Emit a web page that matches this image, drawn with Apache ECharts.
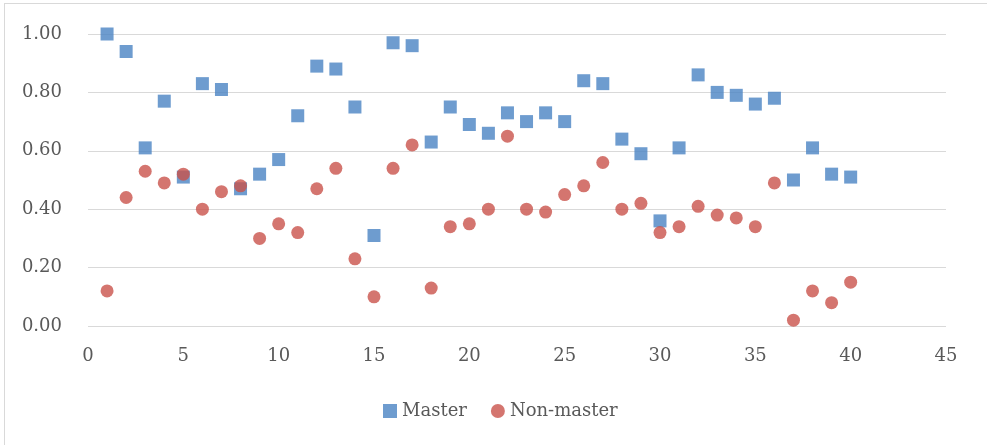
<!DOCTYPE html>
<html>
<head>
<meta charset="utf-8">
<script src="https://cdn.jsdelivr.net/npm/echarts@6/dist/echarts.min.js"></script>
<style>
html,body{margin:0;padding:0;background:#fff;}
#frame{position:absolute;left:4px;top:3px;width:990px;height:450px;border-top:1px solid #d9d9d9;border-left:1px solid #d9d9d9;box-sizing:border-box;}
#chart{position:absolute;left:0;top:0;width:987px;height:445px;}
</style>
</head>
<body>
<div id="frame"></div>
<div id="chart"></div>
<script>
const xValues = [1,2,3,4,5,6,7,8,9,10,11,12,13,14,15,16,17,18,19,20,21,22,23,24,25,26,27,28,29,30,31,32,33,34,35,36,37,38,39,40];
const masterValues = [1.00,0.94,0.61,0.77,0.51,0.83,0.81,0.47,0.52,0.57,0.72,0.89,0.88,0.75,0.31,0.97,0.96,0.63,0.75,0.69,0.66,0.73,0.70,0.73,0.70,0.84,0.83,0.64,0.59,0.36,0.61,0.86,0.80,0.79,0.76,0.78,0.50,0.61,0.52,0.51];
const nonMasterValues = [0.12,0.44,0.53,0.49,0.52,0.40,0.46,0.48,0.30,0.35,0.32,0.47,0.54,0.23,0.10,0.54,0.62,0.13,0.34,0.35,0.40,0.65,0.40,0.39,0.45,0.48,0.56,0.40,0.42,0.32,0.34,0.41,0.38,0.37,0.34,0.49,0.02,0.12,0.08,0.15];
const seriesNames = ['Master','Non-master'];

const chart = echarts.init(document.getElementById('chart'));
const labelFont = {color:'#595959', fontFamily:'DejaVu Serif', fontSize:18};
chart.setOption({
  animation:false,
  grid:{left:88,right:41,top:34,bottom:119,containLabel:false},
  legend:{
    data:[{name:seriesNames[0],icon:'rect'},{name:seriesNames[1],icon:'circle'}],
    left:378, top:397, itemWidth:14, itemHeight:14, itemGap:24,
    textStyle:labelFont
  },
  xAxis:{
    type:'value', min:0, max:45, interval:5,
    axisLine:{show:false}, axisTick:{show:false}, splitLine:{show:false},
    axisLabel:Object.assign({margin:21}, labelFont)
  },
  yAxis:{
    type:'value', min:0, max:1, interval:0.2,
    axisLine:{show:false}, axisTick:{show:false},
    splitLine:{show:true, lineStyle:{color:'#d9d9d9', width:1}},
    axisLabel:Object.assign({margin:26, formatter:v=>v.toFixed(2)}, labelFont)
  },
  series:[
    {name:seriesNames[0], type:'scatter', symbol:'rect', symbolSize:13,
     itemStyle:{color:'#4A83C3'},
     data:xValues.map((x,i)=>[x,masterValues[i]])},
    {name:seriesNames[1], type:'scatter', symbol:'circle', symbolSize:13,
     itemStyle:{color:'#C9524B'},
     data:xValues.map((x,i)=>[x,nonMasterValues[i]])}
  ]
});
</script>
</body>
</html>
